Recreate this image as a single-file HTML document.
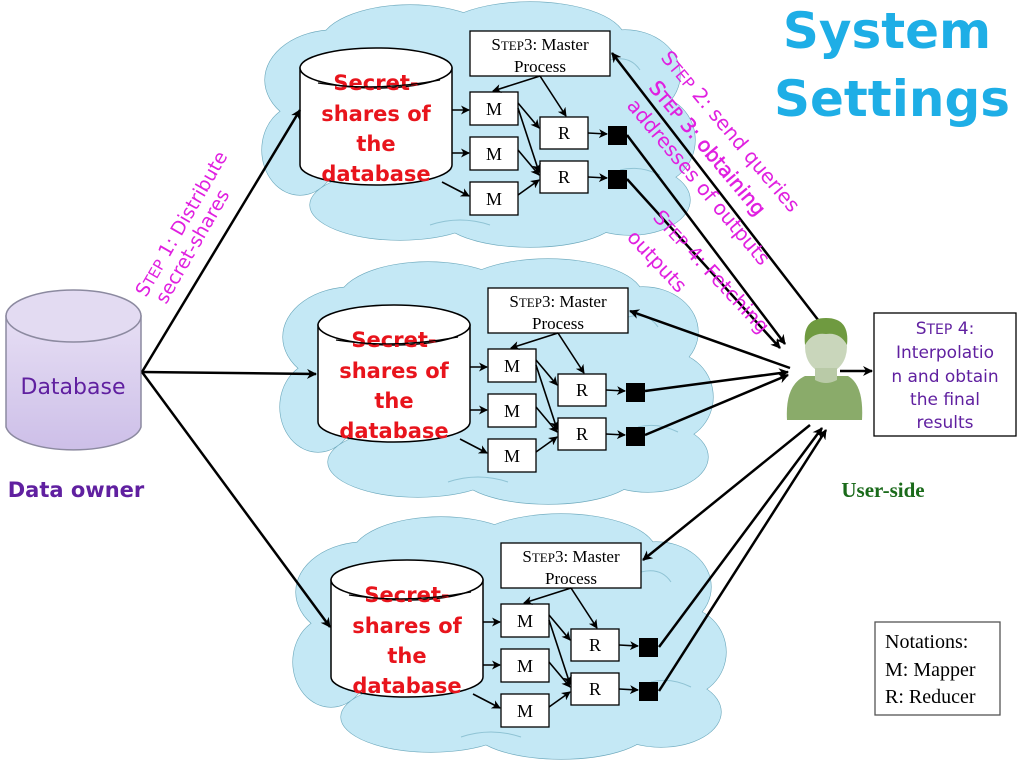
<!DOCTYPE html>
<html><head><meta charset="utf-8"><style>
html,body{margin:0;padding:0;background:#fff;}
svg{display:block;}
.sc{font-family:"DejaVu Sans","Liberation Sans",sans-serif;}
.ser{font-family:"Liberation Serif",serif;}
</style></head><body>
<svg width="1024" height="768" viewBox="0 0 1024 768" xmlns="http://www.w3.org/2000/svg">
<defs>
<marker id="ah" markerWidth="10" markerHeight="10" refX="9" refY="5" orient="auto" markerUnits="userSpaceOnUse">
<path d="M0,0 L10,5 L0,10 L3,5 z" fill="#000"/>
</marker>
<marker id="ahs" markerWidth="9" markerHeight="9" refX="8" refY="4.5" orient="auto" markerUnits="userSpaceOnUse">
<path d="M0,0 L9,4.5 L0,9 L2.5,4.5 z" fill="#000"/>
</marker>
<linearGradient id="dbg" x1="0" y1="0" x2="0" y2="1"><stop offset="0" stop-color="#e6def4"/><stop offset="1" stop-color="#cdbfe8"/></linearGradient>
<g id="cloudshape">
<ellipse cx="335" cy="80" rx="70" ry="50"/>
<ellipse cx="410" cy="45" rx="90" ry="40"/>
<ellipse cx="530" cy="40" rx="95" ry="38"/>
<ellipse cx="625" cy="75" rx="55" ry="45"/>
<ellipse cx="650" cy="140" rx="45" ry="45"/>
<ellipse cx="630" cy="200" rx="60" ry="35"/>
<ellipse cx="530" cy="215" rx="90" ry="32"/>
<ellipse cx="400" cy="205" rx="90" ry="35"/>
<ellipse cx="300" cy="150" rx="38" ry="45"/>
<ellipse cx="470" cy="130" rx="170" ry="90"/>
</g>
<g id="cluster">
<g fill="#c4e8f5" stroke="#6aa7bb" stroke-width="1.2"><use href="#cloudshape"/></g>
<g fill="#c4e8f5" stroke="none"><use href="#cloudshape"/></g>
<g fill="none" stroke="#8fc3d4" stroke-width="1">
<path d="M610,60 q20,-5 30,10"/><path d="M620,170 q20,-5 40,5"/><path d="M300,130 q10,-15 30,-10"/><path d="M430,225 q30,-10 60,0"/>
</g>
<path d="M300,68 L300,165 A76,20 0 0 0 452,165 L452,68 Z" fill="#fff" stroke="#000" stroke-width="1.5"/>
<ellipse cx="376" cy="68" rx="76" ry="20" fill="#fff" stroke="#000" stroke-width="1.5"/>
<g class="sc" font-size="21" font-weight="bold" fill="#e8141c" text-anchor="middle">
<text x="376" y="90">Secret-</text>
<text x="376" y="121">shares of</text>
<text x="376" y="151">the</text>
<text x="376" y="181">database</text>
</g>
<path d="M318,83 Q376,92 440,80" fill="none" stroke="#000" stroke-width="1.2"/>
<rect x="470" y="31" width="140" height="45" fill="#fff" stroke="#000" stroke-width="1.3"/>
<text class="ser" x="540" y="50" font-size="17" text-anchor="middle">S<tspan font-size="13">TEP</tspan>3: Master</text>
<text class="ser" x="540" y="72" font-size="17" text-anchor="middle">Process</text>
<g fill="#fff" stroke="#000" stroke-width="1.3">
<rect x="470" y="92" width="48" height="33"/>
<rect x="470" y="137" width="48" height="33"/>
<rect x="470" y="182" width="48" height="33"/>
<rect x="540" y="117" width="48" height="32"/>
<rect x="540" y="161" width="48" height="32"/>
</g>
<g class="ser" font-size="18" text-anchor="middle">
<text x="494" y="115">M</text><text x="494" y="160">M</text><text x="494" y="205">M</text>
<text x="564" y="139">R</text><text x="564" y="183">R</text>
</g>
<rect x="608" y="126" width="19" height="19" fill="#000"/>
<rect x="608" y="170" width="19" height="19" fill="#000"/>
<g stroke="#000" stroke-width="1.6" fill="none" marker-end="url(#ahs)">
<line x1="452" y1="110" x2="469" y2="110"/>
<line x1="452" y1="153" x2="469" y2="153"/>
<line x1="442" y1="182" x2="469" y2="196"/>
<line x1="540" y1="76" x2="493" y2="91"/>
<line x1="540" y1="76" x2="566" y2="116"/>
<line x1="518" y1="103" x2="539" y2="128"/>
<line x1="518" y1="108" x2="539" y2="172"/>
<line x1="518" y1="150" x2="539" y2="175"/>
<line x1="518" y1="195" x2="539" y2="180"/>
<line x1="588" y1="133" x2="607" y2="134"/>
<line x1="588" y1="177" x2="607" y2="178"/>
</g>
</g>
</defs>

<use href="#cluster"/>
<use href="#cluster" transform="translate(18,257)"/>
<use href="#cluster" transform="translate(31,512)"/>

<path d="M6,316 L6,427 A68,26 0 0 0 141,427 L141,316 Z" fill="url(#dbg)" stroke="#8c8aa0" stroke-width="1.5"/>
<ellipse cx="73.5" cy="316" rx="67.5" ry="26" fill="#e3dbf2" stroke="#8c8aa0" stroke-width="1.5"/>
<text class="sc" x="73" y="394" font-size="22" fill="#6020a0" text-anchor="middle">Database</text>
<text class="sc" x="76" y="497" font-size="21" font-weight="bold" fill="#6020a0" text-anchor="middle">Data owner</text>

<g stroke="#000" stroke-width="2.5" fill="none" marker-end="url(#ah)">
<line x1="142" y1="372" x2="300" y2="110"/>
<line x1="142" y1="372" x2="316" y2="374"/>
<line x1="142" y1="372" x2="330" y2="627"/>
</g>

<g class="sc" fill="#e020e0" font-size="19">
<text transform="translate(146,298) rotate(-60)">S<tspan font-size="15">TEP</tspan> 1: Distribute</text>
<text transform="translate(166,305) rotate(-60)">secret-shares</text>
</g>

<g stroke="#000" stroke-width="2.5" fill="none">
<line x1="822" y1="325" x2="612" y2="53" marker-end="url(#ah)"/>
<line x1="627" y1="135" x2="785" y2="344" marker-end="url(#ah)"/>
<line x1="627" y1="179" x2="780" y2="348" marker-end="url(#ah)"/>
<line x1="790" y1="368" x2="630" y2="311" marker-end="url(#ah)"/>
<line x1="645" y1="391" x2="788" y2="372" marker-end="url(#ah)"/>
<line x1="645" y1="435" x2="788" y2="375" marker-end="url(#ah)"/>
<line x1="810" y1="425" x2="643" y2="560" marker-end="url(#ah)"/>
<line x1="659" y1="647" x2="822" y2="428" marker-end="url(#ah)"/>
<line x1="659" y1="691" x2="826" y2="430" marker-end="url(#ah)"/>
<line x1="840" y1="371" x2="872" y2="371" marker-end="url(#ah)"/>
</g>

<g class="sc" fill="#e020e0" font-size="20">
<text transform="translate(660,58) rotate(50)">S<tspan font-size="16">TEP</tspan> 2: send queries</text>
<text transform="translate(648,88) rotate(50)" stroke="#e020e0" stroke-width="0.5">S<tspan font-size="16">TEP</tspan> 3: obtaining</text>
<text transform="translate(626,106) rotate(50)">addresses of outputs</text>
<text transform="translate(652,218) rotate(47)">S<tspan font-size="16">TEP</tspan> 4: Fetching</text>
<text transform="translate(626,238) rotate(47)">outputs</text>
</g>

<g>
<path d="M787,420 Q785,385 805,376 L848,376 Q864,385 862,420 Z" fill="#8aab6a"/>
<ellipse cx="826" cy="347" rx="21" ry="26" fill="#c9d6bb"/>
<path d="M805,345 Q802,318 826,318 Q850,318 847,345 Q840,332 826,334 Q812,332 805,345 Z" fill="#6f9a40"/>
<path d="M815,368 L815,380 Q826,386 837,380 L837,368 Z" fill="#b9caa7"/>
</g>
<text class="ser" x="883" y="497" font-size="21" font-weight="bold" fill="#1a6a1a" text-anchor="middle">User-side</text>

<rect x="874" y="313" width="142" height="123" fill="#fff" stroke="#000" stroke-width="1.3"/>
<g class="sc" font-size="17" fill="#6020a0" text-anchor="middle">
<text x="945" y="334">S<tspan font-size="14">TEP</tspan> 4:</text>
<text x="945" y="358">Interpolatio</text>
<text x="945" y="382">n and obtain</text>
<text x="945" y="405">the final</text>
<text x="945" y="428">results</text>
</g>

<rect x="875" y="622" width="125" height="93" fill="#fff" stroke="#555" stroke-width="1.3"/>
<g class="ser" font-size="20">
<text x="885" y="648">Notations:</text>
<text x="885" y="676">M: Mapper</text>
<text x="885" y="703">R: Reducer</text>
</g>

<g class="sc" font-size="50" font-weight="bold" fill="#1eaee6" text-anchor="middle">
<text x="887" y="48">System</text>
<text x="892" y="116">Settings</text>
</g>
</svg>
</body></html>
